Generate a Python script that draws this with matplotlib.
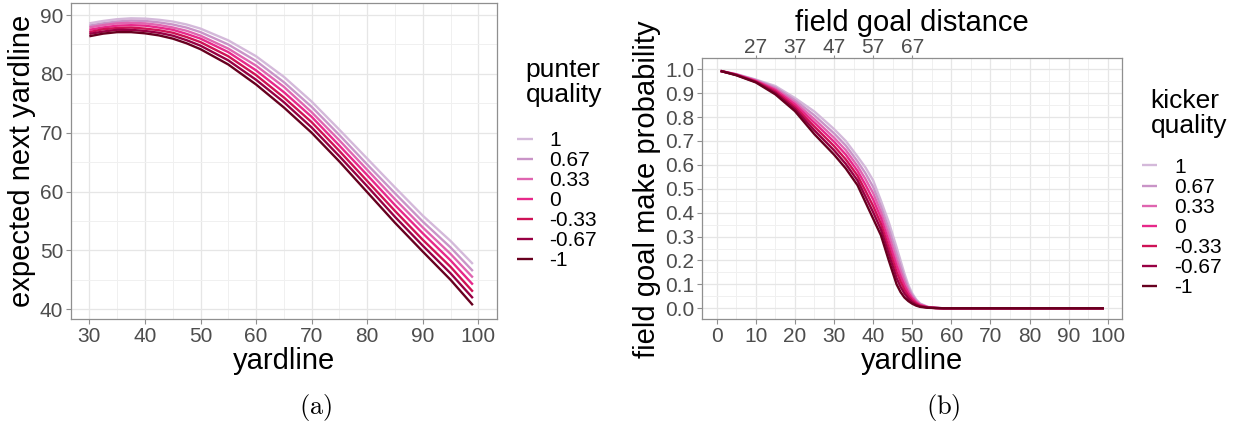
import numpy as np
import matplotlib.pyplot as plt
from matplotlib.ticker import MultipleLocator

plt.rcParams['font.family'] = ['Liberation Sans', 'DejaVu Sans']
plt.rcParams['mathtext.fontset'] = 'cm'

# legend levels, lightest (1) to darkest (-1)
qualities = ["1", "0.67", "0.33", "0", "-0.33", "-0.67", "-1"]
colors = ["#d4b9da", "#c994c7", "#df65b0", "#e7298a", "#ce1256", "#980043", "#67001f"]

# (a) expected next yardline after a punt
punt_yardline = [30, 32.5, 35, 37.5, 40, 42.5, 45, 47.5, 50, 55, 60, 65, 70, 75, 80, 85, 90, 95, 99]
punt_q_p100 = [88.6, 89.0, 89.3, 89.45, 89.4, 89.2, 88.9, 88.4, 87.7, 85.7, 83.0, 79.5, 75.3, 70.5, 65.6, 60.7, 55.9, 51.6, 47.7]
punt_q_p067 = [88.2, 88.6, 88.9, 89.06, 89.0, 88.76, 88.4, 87.87, 87.1, 85.0, 82.2, 78.6, 74.4, 69.6, 64.6, 59.7, 54.9, 50.5, 46.5]
punt_q_p033 = [87.9, 88.3, 88.6, 88.67, 88.6, 88.32, 87.9, 87.33, 86.5, 84.3, 81.4, 77.8, 73.5, 68.7, 63.7, 58.7, 53.9, 49.4, 45.4]
punt_q_000 = [87.5, 87.9, 88.2, 88.28, 88.2, 87.88, 87.5, 86.8, 86.0, 83.7, 80.6, 76.9, 72.7, 67.8, 62.8, 57.7, 52.9, 48.3, 44.2]
punt_q_m033 = [87.1, 87.6, 87.8, 87.88, 87.7, 87.43, 87.0, 86.27, 85.4, 83.0, 79.8, 76.0, 71.8, 66.9, 61.8, 56.7, 51.8, 47.2, 43.0]
punt_q_m067 = [86.8, 87.2, 87.5, 87.49, 87.3, 86.99, 86.5, 85.73, 84.8, 82.3, 79.0, 75.2, 70.9, 66.0, 60.9, 55.7, 50.8, 46.1, 41.9]
punt_q_m100 = [86.4, 86.85, 87.1, 87.1, 86.9, 86.55, 86.0, 85.2, 84.2, 81.6, 78.2, 74.3, 70.0, 65.1, 59.9, 54.7, 49.8, 45.0, 40.7]
punt_series = [punt_q_p100, punt_q_p067, punt_q_p033, punt_q_000, punt_q_m033, punt_q_m067, punt_q_m100]

# (b) field goal make probability
fg_yardline = [1, 5, 10, 15, 20, 25, 30, 33, 36, 38, 40, 42, 44, 46, 47, 48, 49, 50, 51, 52, 54, 56, 58, 60, 70, 80, 90, 99]
fg_q_p100 = [.993, .980, .957, .930, .880, .823, .750, .700, .635, .590, .535, .450, .360, .255, .200, .145, .097, .062, .037, .020, .006, .002, 0, 0, 0, 0, 0, 0]
fg_q_p067 = [.993, .979, .955, .924, .871, .807, .732, .681, .615, .566, .508, .426, .333, .229, .178, .128, .086, .055, .033, .018, .005, .002, 0, 0, 0, 0, 0, 0]
fg_q_p033 = [.993, .978, .953, .918, .862, .791, .714, .662, .595, .542, .482, .402, .307, .203, .156, .112, .075, .048, .028, .015, .005, .002, 0, 0, 0, 0, 0, 0]
fg_q_000 = [.993, .978, .951, .913, .853, .776, .697, .643, .575, .518, .455, .378, .280, .178, .134, .095, .064, .041, .024, .013, .004, .001, 0, 0, 0, 0, 0, 0]
fg_q_m033 = [.993, .977, .949, .907, .843, .760, .679, .623, .555, .493, .428, .353, .253, .152, .112, .078, .052, .033, .020, .011, .003, .001, 0, 0, 0, 0, 0, 0]
fg_q_m067 = [.993, .976, .947, .901, .834, .744, .661, .604, .535, .469, .402, .329, .227, .126, .090, .062, .041, .026, .015, .008, .003, .001, 0, 0, 0, 0, 0, 0]
fg_q_m100 = [.993, .975, .945, .895, .825, .728, .643, .585, .515, .445, .375, .305, .200, .100, .068, .045, .030, .019, .011, .006, .002, .001, 0, 0, 0, 0, 0, 0]
fg_series = [fg_q_p100, fg_q_p067, fg_q_p033, fg_q_000, fg_q_m033, fg_q_m067, fg_q_m100]

fg_distance_ticks = [27, 37, 47, 57, 67]


def style_axes(ax):
    ax.set_facecolor('white')
    ax.grid(which='major', color='#e6e6e6', linewidth=0.9)
    ax.grid(which='minor', color='#f0f0f0', linewidth=0.7)
    ax.set_axisbelow(True)
    for s in ax.spines.values():
        s.set_color('#8f8f8f')
        s.set_linewidth(0.9)
    ax.tick_params(which='major', length=3.5, width=0.8, color='#8f8f8f',
                   labelsize=15, labelcolor='#4d4d4d', pad=2)
    ax.tick_params(which='minor', length=0)


def add_legend(ax, title, x, y_title, y_keys):
    # title drawn as its own text so the gap to the keys matches
    fig.text(x + 0.007, y_title, title, fontsize=19, va='top', ha='left', linespacing=1.05)
    ax.legend(loc='upper left', bbox_to_anchor=(x, y_keys),
              bbox_transform=fig.transFigure, frameon=False, fontsize=15,
              handlelength=0.75, handletextpad=0.8, labelspacing=0.05,
              borderpad=0, borderaxespad=0)


fig = plt.figure(figsize=(12.43, 4.23), dpi=100)

# panel (a)
ax1 = fig.add_axes([0.0569, 0.2451, 0.3432, 0.7471])
for vals, col, q in zip(punt_series, colors, qualities):
    ax1.plot(punt_yardline, vals, color=col, lw=1.7, label=q, solid_capstyle='butt')
ax1.set_xlim(26.65, 103.4)
ax1.set_ylim(38.3, 92.0)
ax1.xaxis.set_major_locator(MultipleLocator(10))
ax1.xaxis.set_minor_locator(MultipleLocator(5))
ax1.yaxis.set_major_locator(MultipleLocator(10))
ax1.yaxis.set_minor_locator(MultipleLocator(5))
style_axes(ax1)
ax1.set_xlabel('yardline', fontsize=21, labelpad=1)
ax1.set_ylabel('expected next yardline', fontsize=21, labelpad=3)
add_legend(ax1, 'punter\nquality', 0.416, 0.862, 0.69)

# panel (b)
ax2 = fig.add_axes([0.5645, 0.2452, 0.3384, 0.617])
for vals, col, q in zip(fg_series, colors, qualities):
    ax2.plot(fg_yardline, vals, color=col, lw=1.7, label=q, solid_capstyle='butt')
ax2.set_xlim(-3.84, 103.7)
ax2.set_ylim(-0.046, 1.046)
ax2.xaxis.set_major_locator(MultipleLocator(10))
ax2.xaxis.set_minor_locator(MultipleLocator(5))
ax2.yaxis.set_major_locator(MultipleLocator(0.1))
ax2.yaxis.set_minor_locator(MultipleLocator(0.05))
ax2.yaxis.set_major_formatter(plt.FormatStrFormatter('%.1f'))
style_axes(ax2)
ax2.set_xlabel('yardline', fontsize=21, labelpad=1)
ax2.set_ylabel('field goal make probability', fontsize=21, labelpad=3)

top = ax2.secondary_xaxis('top', functions=(lambda x: x + 17, lambda x: x - 17))
top.set_xticks(fg_distance_ticks)
top.tick_params(length=2.5, width=0.8, color='#8f8f8f', labelsize=15,
                labelcolor='#4d4d4d', pad=-1.5)
top.spines['top'].set_visible(False)
top.set_xlabel('field goal distance', fontsize=21, labelpad=5)
add_legend(ax2, 'kicker\nquality', 0.9185, 0.79, 0.627)

fig.text(0.2535, 0.037, r'$\mathrm{(a)}$', fontsize=19, ha='center', va='center')
fig.text(0.7585, 0.037, r'$\mathrm{(b)}$', fontsize=19, ha='center', va='center')

fig.savefig('out.png', dpi=100)
